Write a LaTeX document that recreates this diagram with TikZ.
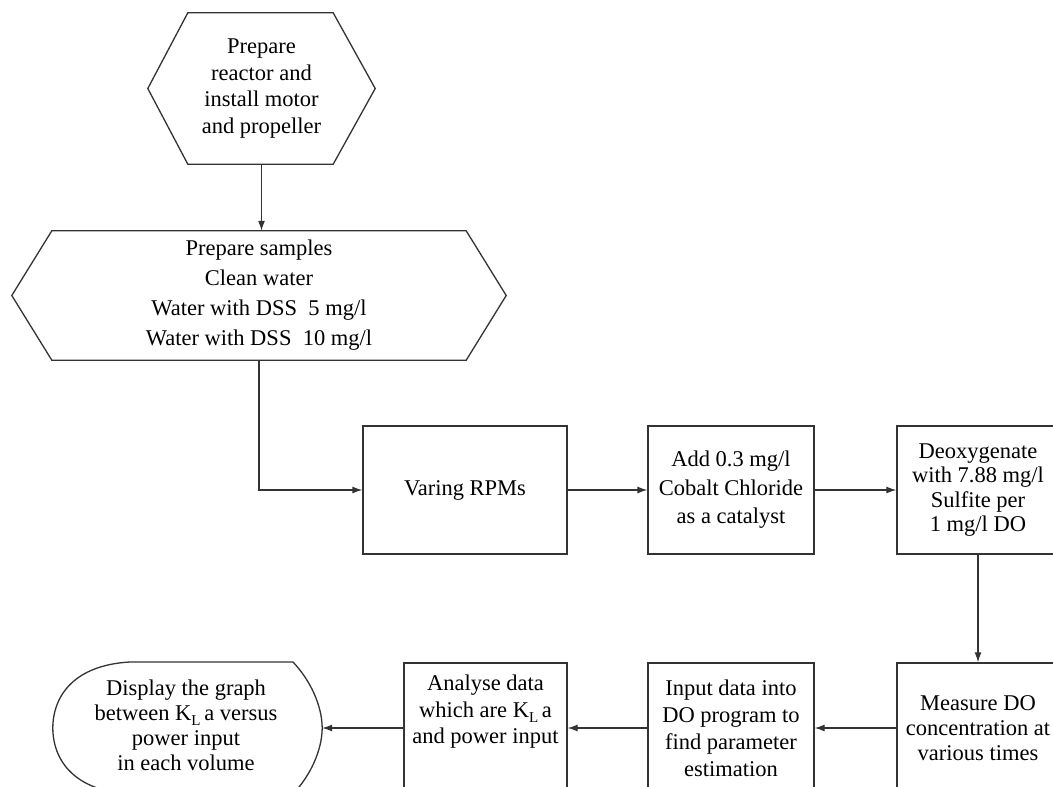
\documentclass[tikz,border=0pt]{standalone}
\usepackage{fontspec}
\setmainfont{Liberation Serif}
\usetikzlibrary{arrows.meta}
\newcommand{\kla}{K\raisebox{-5pt}{\fontsize{15}{15}\selectfont L}\,a}
\begin{document}
\begin{tikzpicture}[x=1pt,y=-1pt,
  outline/.style={draw=black!80, line width=1.3pt, line join=miter},
  stepbox/.style={outline, inner sep=0pt, align=center},
  txt/.style={inner sep=0pt, align=center},
  conn/.style={draw=black!80, line width=1.2pt, -{Latex[length=10pt,width=7pt]}},
  every node/.style={font=\fontsize{22.5}{25}\selectfont}]
\useasboundingbox (0,0) rectangle (1053,787);
\clip (0,0) rectangle (1053,787);
\fill[white] (0,0) rectangle (1053,787);

% hexagon 1
\node[txt, minimum width=227pt, minimum height=151pt, font=\fontsize{22.5}{26.5}\selectfont] (h1) at (261.5,88.5)
  {Prepare\\reactor and\\install motor\\and propeller};
\draw[outline] ([xshift=40pt]h1.north west) -- ([xshift=-42pt]h1.north east) -- (h1.east)
  -- ([xshift=-42pt]h1.south east) -- ([xshift=40pt]h1.south west) -- (h1.west) -- cycle;

% hexagon 2
\node[txt, minimum width=494pt, minimum height=129pt, font=\fontsize{22.5}{30}\selectfont] (h2) at (259,295.5)
  {Prepare samples\\Clean water\\Water with DSS\ \ 5 mg/l\\Water with DSS\ \ 10 mg/l};
\draw[outline] ([xshift=40pt]h2.north west) -- ([xshift=-40pt]h2.north east) -- (h2.east)
  -- ([xshift=-40pt]h2.south east) -- ([xshift=40pt]h2.south west) -- (h2.west) -- cycle;

% top row boxes
\node[stepbox, minimum width=204pt, minimum height=128pt] (var) at (465,490) {Varing RPMs};
\node[stepbox, minimum width=166pt, minimum height=128pt, font=\fontsize{22.5}{28.5}\selectfont] (add) at (731,490)
  {Add 0.3 mg/l\\Cobalt Chloride\\as a catalyst};
\node[stepbox, minimum width=162pt, minimum height=128pt, font=\fontsize{22.5}{24.5}\selectfont] (deo) at (978,490)
  {Deoxygenate\\with 7.88 mg/l\\Sulfite per\\1 mg/l DO};

% bottom row boxes
\node[stepbox, minimum width=162pt, minimum height=130pt] (mea) at (978,728)
  {Measure DO\\concentration at\\various times};
\node[stepbox, minimum width=166pt, minimum height=130pt, font=\fontsize{22.5}{27}\selectfont] (inp) at (731,728)
  {Input data into\\DO program to\\find parameter\\estimation};
\node[outline, minimum width=163pt, minimum height=130pt, inner sep=0pt] (ana) at (485.5,728) {};
\node[txt, font=\fontsize{22.5}{26.5}\selectfont] (anaT) at (485.5,712)
  {Analyse data\\which are \kla\\and power input};

% display shape
\node[txt, minimum width=269pt, minimum height=132pt] (dis) at (187.5,728) {};
\node[txt] (disT) at (186,725)
  {Display the graph\\between \kla{} versus\\power input\\in each volume};
\draw[outline] (130,662) -- (293,662)
  .. controls (310,680) and (322,705) .. (dis.east)
  .. controls (322,751) and (310,776) .. (293,794)
  -- (130,794)
  .. controls (75,791) and (53,761) .. (dis.west)
  .. controls (53,695) and (75,665) .. (130,662) -- cycle;

% connectors
\draw[conn] (h1.south) -- (h1.south |- h2.north);
\draw[conn] (h2.south) |- (var.west);
\draw[conn] (var.east) -- (add.west);
\draw[conn] (add.east) -- (deo.west);
\draw[conn] (deo.south) -- (mea.north);
\draw[conn] (mea.west) -- (inp.east);
\draw[conn] (inp.west) -- (ana.east);
\draw[conn] (ana.west) -- (dis.east);
\end{tikzpicture}
\end{document}
